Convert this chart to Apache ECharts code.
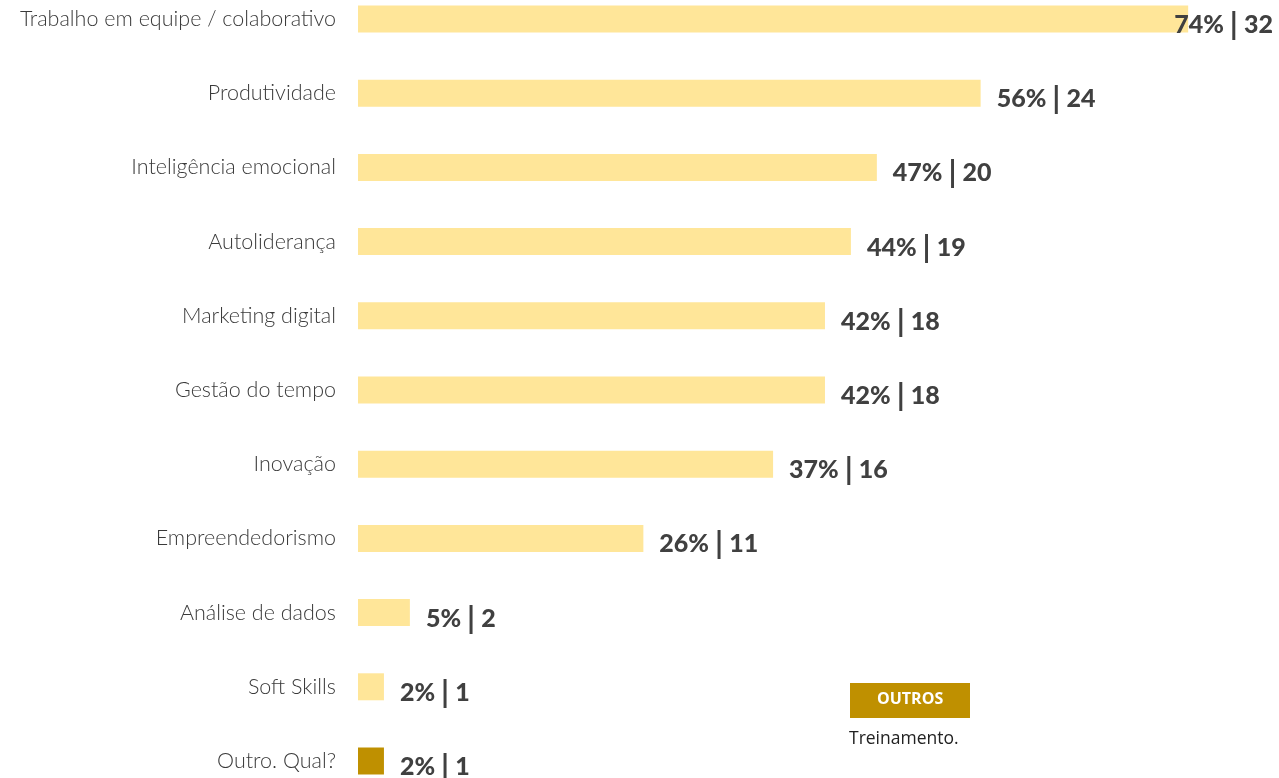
<!DOCTYPE html>
<html>
<head>
<meta charset="utf-8">
<script src="https://cdn.jsdelivr.net/npm/echarts@6/dist/echarts.min.js"></script>
<style>
  html, body { margin: 0; padding: 0; background: #fff; }
  #chart { width: 1279px; height: 778px; }
</style>
</head>
<body>
<div id="chart"></div>
<script>
// dados
const categorias = [
  'Trabalho em equipe / colaborativo',
  'Produtividade',
  'Inteligência emocional',
  'Autoliderança',
  'Marketing digital',
  'Gestão do tempo',
  'Inovação',
  'Empreendedorismo',
  'Análise de dados',
  'Soft Skills',
  'Outro. Qual?'
]
const respostas = [32, 24, 20, 19, 18, 18, 16, 11, 2, 1, 1]
const percentuais = [74, 56, 47, 44, 42, 42, 37, 26, 5, 2, 2]
const outros = ['Treinamento.']

const corClara = '#FFE699'
const corEscura = '#BF9000'

const chart = echarts.init(document.getElementById('chart'))

const dados = respostas.map((v, i) => {
  const item = { value: v, itemStyle: { color: i === respostas.length - 1 ? corEscura : corClara } }
  // o primeiro rótulo foi empurrado para dentro da área
  if (i === 0) item.label = { offset: [-30, 6] }
  return item
})

chart.setOption({
  animation: false,
  grid: { left: 358, right: 13, top: 19, bottom: 17 },
  xAxis: {
    type: 'value',
    min: 0,
    max: 35,
    show: false
  },
  yAxis: {
    type: 'category',
    data: categorias,
    inverse: true,
    boundaryGap: false,
    axisLine: { show: false },
    axisTick: { show: false },
    splitLine: { show: false },
    axisLabel: {
      margin: 22,
      fontFamily: 'Lato',
      fontWeight: 300,
      fontSize: 21.5,
      color: '#3a3a3a'
    }
  },
  series: [{
    type: 'bar',
    data: dados,
    barWidth: 27,
    label: {
      show: true,
      position: 'right',
      distance: 16,
      offset: [0, 6],
      formatter: p => '{p|' + percentuais[p.dataIndex] + '%}{s||}{n|' + p.value + '}',
      rich: {
        p: { fontFamily: 'Lato', fontWeight: 900, fontSize: 25, color: '#404040' },
        s: { fontFamily: 'Lato', fontWeight: 'bold', fontSize: 31, color: '#404040', padding: [0, 6, 0, 6] },
        n: { fontFamily: 'Lato', fontWeight: 900, fontSize: 25, color: '#404040' }
      }
    }
  }],
  graphic: [
    {
      type: 'rect',
      left: 850,
      top: 683,
      shape: { width: 120, height: 35 },
      style: { fill: corEscura }
    },
    {
      type: 'text',
      left: 877,
      top: 691,
      style: { text: 'OUTROS', fill: '#fff', font: 'bold 16px "Open Sans"' }
    },
    {
      type: 'text',
      left: 849,
      top: 730,
      style: { text: outros[0], fill: '#222', font: '17.5px "Open Sans"' }
    }
  ]
})
</script>
</body>
</html>
